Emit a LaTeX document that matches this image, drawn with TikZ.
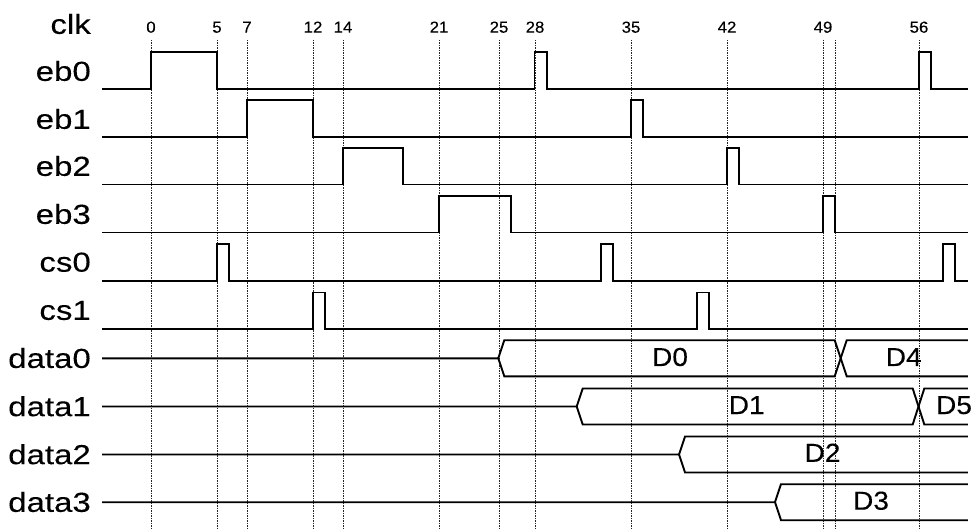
\documentclass[tikz,border=0pt]{standalone}
\usepackage{fontspec}
\setmainfont[FakeBold=0.15]{Liberation Sans}
\newcommand\biglab[1]{\scalebox{1.2}[1]{#1}}
\newcommand\dlab[1]{\scalebox{1.08}[1]{#1}}
\newcommand\nlab[1]{\scalebox{1.05}[1]{#1}}
\begin{document}
\begin{tikzpicture}[x=1pt,y=-1pt,
  sig/.style={line width=1.9pt, line join=miter, line cap=rect},
  gridline/.style={line width=0.8pt, dash pattern=on 1.5pt off 1pt, black!85},
  lbl/.style={anchor=east, inner sep=0pt, font=\fontsize{27.5}{31}\selectfont},
  num/.style={anchor=base, inner sep=0pt, font=\fontsize{16}{19}\selectfont},
  dval/.style={anchor=base, inner sep=0pt, font=\fontsize{26}{30}\selectfont}]
\useasboundingbox (0,0) rectangle (972,529);
% time grid
\foreach \x/\t in {151/0, 217/5, 247/7, 313/12, 343/14, 439/21, 499/25, 535/28, 631/35, 727/42, 823/49, 919/56} {
  \draw[gridline] (\x,40) -- (\x,529);
  \node[num] (t\t) at (\x,32.7) {\nlab{\t}};
}
\draw[gridline] (835,40) -- (835,529);
% labels
\node[lbl] (lclk) at (91,24) {\biglab{clk}};
\node[lbl] (leb0) at (91,71) {\biglab{eb0}};
\node[lbl] (leb1) at (91,119) {\biglab{eb1}};
\node[lbl] (leb2) at (91,166.0) {\biglab{eb2}};
\node[lbl] (leb3) at (91,214.0) {\biglab{eb3}};
\node[lbl] (lcs0) at (91,262.2) {\biglab{cs0}};
\node[lbl] (lcs1) at (91,310.5) {\biglab{cs1}};
\node[lbl] (ld0) at (91,358.1) {\biglab{data0}};
\node[lbl] (ld1) at (91,406.3) {\biglab{data1}};
\node[lbl] (ld2) at (91,454.3) {\biglab{data2}};
\node[lbl] (ld3) at (91,502.0) {\biglab{data3}};
% waveforms
\draw[sig] (103,88.7) \foreach \a/\b in {151/217, 534.5/547, 918.7/930.7} { -- (\a,88.7) -- (\a,52.2) -- (\b,52.2) -- (\b,88.7) } -- (967,88.7);
\draw[sig] (103,136.7) \foreach \a/\b in {246.7/312.7, 630.7/643} { -- (\a,136.7) -- (\a,100.2) -- (\b,100.2) -- (\b,136.7) } -- (967,136.7);
\draw[sig] (103,184.5) \foreach \a/\b in {342.7/402.7, 726.7/738.7} { -- (\a,184.5) -- (\a,148) -- (\b,148) -- (\b,184.5) } -- (967,184.5);
\draw[sig] (103,232.5) \foreach \a/\b in {438.7/511, 822.7/835} { -- (\a,232.5) -- (\a,196) -- (\b,196) -- (\b,232.5) } -- (967,232.5);
\draw[sig] (103,280.7) \foreach \a/\b in {217/229, 600.7/612.7, 942.7/955} { -- (\a,280.7) -- (\a,244.2) -- (\b,244.2) -- (\b,280.7) } -- (967,280.7);
\draw[sig] (103,329) \foreach \a/\b in {312.7/325, 696.7/708.7} { -- (\a,329) -- (\a,292.5) -- (\b,292.5) -- (\b,329) } -- (967,329);
% buses
\draw[sig] (103,358.3) -- (498.3,358.3) -- (504.3,340.3) -- (834.7,340.3) -- (846.7,376.3) -- (967,376.3);
\draw[sig] (498.3,358.3) -- (504.3,376.3) -- (834.7,376.3) -- (846.7,340.3) -- (967,340.3);
\draw[sig] (103,406.5) -- (576.7,406.5) -- (582.7,388.5) -- (912.7,388.5) -- (924.3,424.5) -- (967,424.5);
\draw[sig] (576.7,406.5) -- (582.7,424.5) -- (912.7,424.5) -- (924.3,388.5) -- (967,388.5);
\draw[sig] (103,454.5) -- (679,454.5) -- (685,436.5) -- (967,436.5);
\draw[sig] (679,454.5) -- (685,472.5) -- (967,472.5);
\draw[sig] (103,502.2) -- (775,502.2) -- (781,484.2) -- (967,484.2);
\draw[sig] (775,502.2) -- (781,520.2) -- (967,520.2);
% bus values
\node[dval] (vD0) at (670,366) {\dlab{D0}};
\node[dval] (vD1) at (746.7,414) {\dlab{D1}};
\node[dval] (vD2) at (822.5,461.8) {\dlab{D2}};
\node[dval] (vD3) at (871,509.7) {\dlab{D3}};
\node[dval] (vD4) at (903.7,366) {\dlab{D4}};
\node[dval] (vD5) at (954,414) {\dlab{D5}};
\end{tikzpicture}
\end{document}
